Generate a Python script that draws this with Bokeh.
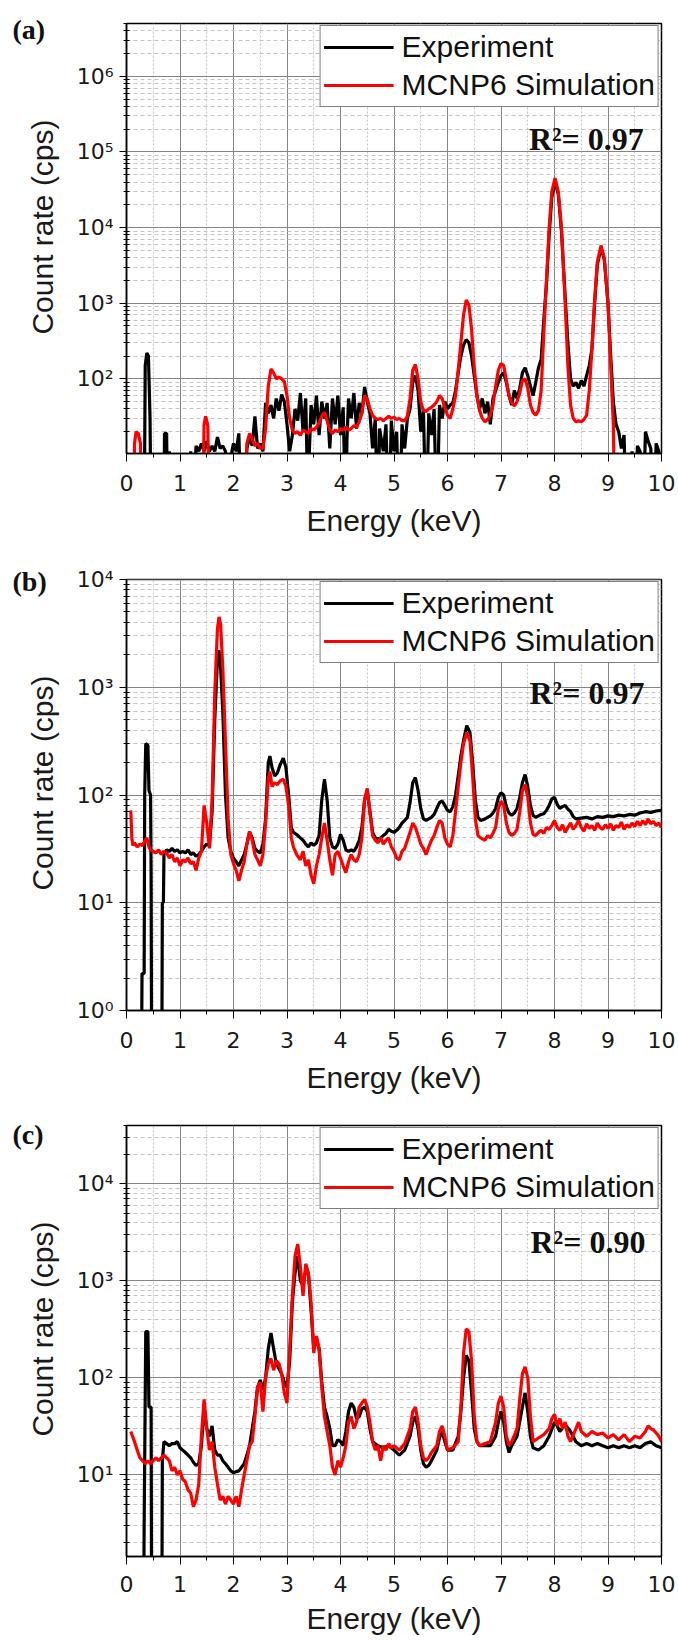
import math
from bokeh.plotting import figure
from bokeh.models import (Range1d, FixedTicker, CustomJSTickFormatter, Label,
                          Legend, LegendItem, ColumnDataSource)
from bokeh.core.properties import value
from bokeh.layouts import column, row
from bokeh.embed import file_html
from bokeh.resources import INLINE

# ---------------- data (energy keV, count rate cps) ----------------
A_EXP = [(0.10,1),(0.33,1),(0.35,150),(0.38,220),(0.41,200),(0.44,30),(0.46,1),
 (0.70,1),(0.71,19),(0.75,19),(0.77,1),(0.80,11),(0.82,1),
 (1.18,1),(1.20,11),(1.23,1),(1.30,13),(1.35,11),(1.40,14),(1.45,11),(1.50,15),(1.55,11),(1.60,13),(1.65,11),
 (1.70,17),(1.75,12),(1.80,13),(1.85,11),(1.90,1),(1.97,11),(2.00,14),(2.05,11),(2.10,19),(2.15,1),
 (2.25,12),(2.30,17),(2.35,13),(2.40,32),(2.45,12),(2.50,14),(2.55,11),(2.60,48),(2.65,35),(2.70,45),(2.75,30),
 (2.80,55),(2.85,38),(2.90,62),(2.95,50),(3.00,25),(3.05,11),
 (3.10,18),(3.15,40),(3.20,28),(3.25,65),(3.30,20),(3.35,55),(3.40,1),(3.42,12),(3.45,45),(3.50,25),(3.55,60),
 (3.60,18),(3.65,50),(3.70,30),(3.75,48),(3.80,12),(3.85,55),(3.90,25),(3.95,60),(4.00,18),(4.05,42),(4.10,1),
 (4.12,15),(4.15,55),(4.20,30),(4.25,65),(4.30,22),(4.35,48),(4.40,35),(4.45,78),(4.50,50),(4.55,35),(4.60,12),
 (4.65,30),(4.70,1),(4.73,22),(4.80,11),(4.85,25),(4.90,1),(4.95,28),(5.00,11),(5.05,20),(5.10,1),(5.15,25),
 (5.20,12),(5.25,30),(5.30,40),(5.35,90),(5.40,110),(5.45,70),(5.50,20),(5.55,40),(5.60,1),(5.65,35),(5.70,18),
 (5.75,40),(5.80,1),(5.85,45),(5.90,30),(5.95,50),(6.00,40),(6.05,45),(6.10,48),(6.15,70),(6.20,120),(6.25,200),
 (6.30,280),(6.35,330),(6.40,300),(6.45,200),(6.50,110),(6.55,60),(6.60,40),(6.65,55),(6.70,35),(6.75,50),
 (6.80,25),(6.85,55),(6.90,70),(6.95,90),(7.00,110),(7.05,120),(7.10,90),(7.15,60),(7.20,45),(7.25,70),(7.30,55),
 (7.35,75),(7.40,120),(7.45,140),(7.50,110),(7.55,80),(7.60,60),(7.65,90),(7.70,140),(7.75,180),(7.80,600),
 (7.85,1800),(7.90,8000),(7.95,25000),(8.01,40000),(8.07,28000),(8.13,9000),(8.20,1200),(8.25,300),(8.30,100),
 (8.35,80),(8.40,90),(8.45,75),(8.50,95),(8.55,80),(8.60,110),(8.65,150),(8.70,250),(8.75,1000),(8.80,3200),
 (8.87,5400),(8.93,3800),(9.00,1000),(9.05,200),(9.10,50),(9.15,25),(9.20,20),(9.25,12),(9.30,18),(9.35,1),
 (9.45,11),(9.50,1),(9.55,13),(9.60,11),(9.65,1),(9.70,20),(9.75,15),(9.80,12),(9.85,1),(9.90,14),(9.95,11),(10.0,1)]

A_SIM = [(0.10,1),(0.13,1),(0.15,14),(0.18,20),(0.22,19),(0.26,14),(0.28,1),(1.42,1),(1.45,25),(1.48,32),
 (1.52,24),(1.55,1),(2.20,1),(2.25,14),(2.30,19),(2.35,16),(2.40,13),(2.45,14),(2.50,12),(2.55,12),(2.60,22),
 (2.65,80),(2.70,135),(2.75,120),(2.80,100),(2.85,105),(2.90,100),(2.95,92),(3.00,60),(3.05,30),(3.10,21),
 (3.15,19),(3.20,20),(3.25,18),(3.30,21),(3.35,20),(3.40,19),(3.45,22),(3.50,21),(3.55,23),(3.60,26),(3.65,32),
 (3.70,36),(3.75,28),(3.80,21),(3.85,19),(3.90,21),(3.95,20),(4.00,22),(4.05,21),(4.10,23),(4.15,21),(4.20,22),
 (4.25,24),(4.30,23),(4.35,27),(4.40,35),(4.45,60),(4.50,55),(4.55,40),(4.60,33),(4.65,30),(4.70,29),(4.75,30),
 (4.80,28),(4.85,30),(4.90,32),(4.95,30),(5.00,31),(5.05,29),(5.10,30),(5.15,28),(5.20,28),(5.25,32),(5.30,55),
 (5.35,130),(5.40,155),(5.45,100),(5.50,50),(5.55,38),(5.60,37),(5.65,40),(5.70,42),(5.75,45),(5.80,50),
 (5.85,60),(5.90,55),(5.95,42),(6.00,33),(6.05,30),(6.10,40),(6.15,60),(6.20,130),(6.25,300),(6.30,700),
 (6.35,1100),(6.40,950),(6.45,450),(6.50,140),(6.55,60),(6.60,38),(6.65,30),(6.70,27),(6.75,29),(6.80,33),
 (6.85,45),(6.90,80),(6.95,130),(7.00,160),(7.05,150),(7.10,95),(7.15,60),(7.20,48),(7.25,44),(7.30,50),
 (7.35,65),(7.40,95),(7.45,100),(7.50,75),(7.55,45),(7.60,36),(7.65,33),(7.70,38),(7.75,70),(7.80,400),
 (7.85,2000),(7.90,10000),(7.95,30000),(8.01,45000),(8.07,30000),(8.13,10000),(8.20,1000),(8.25,150),(8.30,45),
 (8.35,30),(8.40,27),(8.45,28),(8.50,27),(8.55,29),(8.60,33),(8.65,70),(8.70,250),(8.75,1100),(8.80,3500),
 (8.87,5800),(8.93,4000),(9.00,1000),(9.05,150),(9.10,25),(9.13,1),(10.0,1)]

B_EXP = [(0.28,0.3),(0.29,2.2),(0.33,2.2),(0.34,100),(0.36,300),(0.40,290),(0.42,110),(0.45,100),(0.46,20),
 (0.47,0.3),(0.66,0.3),(0.67,10),(0.69,10),(0.70,28),(0.75,31),(0.80,30),(0.85,32),(0.90,30),(0.95,31),(1.00,29),
 (1.05,30),(1.10,29),(1.15,31),(1.20,28),(1.25,29),(1.30,27),(1.35,28),(1.40,30),(1.45,33),(1.50,35),(1.55,34),
 (1.60,70),(1.65,500),(1.70,1800),(1.73,2200),(1.76,1500),(1.80,600),(1.85,100),(1.90,40),(1.95,30),(2.00,26),
 (2.05,24),(2.10,22),(2.15,25),(2.20,28),(2.25,35),(2.30,45),(2.35,40),(2.40,32),(2.45,30),(2.50,29),(2.55,35),
 (2.60,60),(2.65,200),(2.68,230),(2.72,180),(2.77,150),(2.82,160),(2.87,190),(2.93,220),(2.98,180),(3.03,100),
 (3.08,50),(3.12,45),(3.18,43),(3.25,40),(3.30,38),(3.35,35),(3.40,33),(3.45,36),(3.50,34),(3.55,36),(3.60,42),
 (3.65,90),(3.70,140),(3.75,90),(3.80,40),(3.85,33),(3.90,32),(3.95,35),(4.00,43),(4.05,38),(4.10,31),(4.15,30),
 (4.20,31),(4.25,30),(4.30,33),(4.35,38),(4.40,50),(4.45,90),(4.50,110),(4.55,70),(4.60,45),(4.65,40),(4.70,39),
 (4.75,40),(4.80,42),(4.85,44),(4.90,48),(4.95,46),(5.00,45),(5.05,47),(5.10,50),(5.15,55),(5.20,58),(5.25,62),
 (5.30,85),(5.35,130),(5.40,145),(5.45,110),(5.50,75),(5.55,60),(5.60,58),(5.65,60),(5.70,62),(5.75,66),
 (5.80,75),(5.85,85),(5.90,88),(5.95,80),(6.00,72),(6.05,70),(6.10,78),(6.15,100),(6.20,150),(6.25,230),
 (6.30,320),(6.36,440),(6.42,380),(6.47,200),(6.52,90),(6.57,62),(6.62,58),(6.70,60),(6.75,62),(6.80,64),
 (6.85,68),(6.90,75),(6.95,95),(7.00,105),(7.05,100),(7.10,78),(7.15,68),(7.20,65),(7.25,68),(7.30,75),
 (7.35,95),(7.40,130),(7.45,155),(7.50,120),(7.55,80),(7.60,65),(7.65,62),(7.70,64),(7.75,66),(7.80,67),
 (7.85,72),(7.90,80),(7.95,92),(8.00,95),(8.05,82),(8.10,75),(8.15,78),(8.20,80),(8.25,74),(8.30,70),(8.35,63),
 (8.40,60),(8.50,61),(8.60,62),(8.70,60),(8.80,63),(8.90,62),(9.00,64),(9.10,63),(9.20,65),(9.30,64),(9.40,66),
 (9.50,65),(9.60,68),(9.70,70),(9.80,69),(9.90,71),(10.0,72)]

B_SIM = [(0.08,72),(0.10,40),(0.12,34),(0.15,36),(0.20,33),(0.25,35),(0.30,34),(0.35,38),(0.38,40),(0.42,33),
 (0.45,31),(0.50,30),(0.55,29),(0.60,31),(0.65,28),(0.70,30),(0.75,29),(0.80,26),(0.85,28),(0.90,24),(0.95,26),
 (1.00,22),(1.05,25),(1.10,24),(1.15,26),(1.20,23),(1.25,24),(1.30,20),(1.35,26),(1.40,30),(1.45,80),(1.50,55),
 (1.55,32),(1.60,90),(1.65,900),(1.70,3500),(1.73,4500),(1.76,3800),(1.80,1500),(1.85,300),(1.90,60),(1.95,28),
 (2.00,23),(2.05,20),(2.10,16),(2.15,20),(2.20,24),(2.25,35),(2.30,46),(2.35,38),(2.40,28),(2.45,25),(2.50,22),
 (2.55,28),(2.60,55),(2.65,140),(2.68,165),(2.72,120),(2.77,130),(2.82,125),(2.87,135),(2.93,140),(2.98,120),
 (3.03,80),(3.08,40),(3.12,33),(3.18,28),(3.25,25),(3.30,30),(3.35,22),(3.40,25),(3.45,18),(3.50,15),(3.55,22),
 (3.60,28),(3.65,40),(3.70,55),(3.75,38),(3.80,25),(3.85,18),(3.90,28),(3.95,30),(4.00,26),(4.05,22),(4.10,19),
 (4.15,24),(4.20,28),(4.25,25),(4.30,24),(4.35,28),(4.40,40),(4.45,90),(4.50,115),(4.55,70),(4.60,42),(4.65,38),
 (4.70,36),(4.75,40),(4.80,35),(4.85,38),(4.90,40),(4.95,33),(5.00,30),(5.05,26),(5.10,25),(5.15,30),(5.20,32),
 (5.25,38),(5.30,45),(5.35,55),(5.40,50),(5.45,42),(5.50,35),(5.55,32),(5.60,28),(5.65,33),(5.70,38),(5.75,42),
 (5.80,50),(5.85,58),(5.90,55),(5.95,40),(6.00,35),(6.05,33),(6.10,42),(6.15,70),(6.20,120),(6.25,200),
 (6.30,300),(6.36,380),(6.42,320),(6.47,150),(6.52,60),(6.57,42),(6.62,40),(6.70,38),(6.75,42),(6.80,40),
 (6.85,44),(6.90,50),(6.95,75),(7.00,88),(7.05,80),(7.10,55),(7.15,45),(7.20,42),(7.25,44),(7.30,48),(7.35,70),
 (7.40,110),(7.45,125),(7.50,95),(7.55,55),(7.60,43),(7.65,42),(7.70,45),(7.75,47),(7.80,44),(7.85,50),
 (7.90,48),(7.95,52),(8.00,58),(8.05,50),(8.10,47),(8.15,53),(8.20,45),(8.25,50),(8.30,55),(8.35,48),(8.40,52),
 (8.45,58),(8.50,50),(8.55,46),(8.60,54),(8.65,49),(8.70,52),(8.75,47),(8.80,55),(8.85,50),(8.90,48),(8.95,53),
 (9.00,49),(9.05,54),(9.10,47),(9.15,52),(9.20,50),(9.25,56),(9.30,48),(9.35,53),(9.40,50),(9.45,55),(9.50,51),
 (9.55,57),(9.60,52),(9.65,58),(9.70,53),(9.75,60),(9.80,54),(9.85,57),(9.90,52),(9.95,55),(10.0,50)]

C_EXP = [(0.30,0.3),(0.32,0.3),(0.33,3),(0.36,300),(0.40,300),(0.42,50),(0.46,50),(0.47,0.3),(0.66,0.3),
 (0.67,14),(0.70,22),(0.75,21),(0.80,20),(0.85,21),(0.90,21),(0.95,22),(1.00,19),(1.05,18),(1.10,17),(1.15,16),
 (1.20,15),(1.25,13.5),(1.30,12.5),(1.35,13),(1.40,20),(1.45,48),(1.50,30),(1.55,25),(1.60,32),(1.65,18),
 (1.70,16),(1.75,16),(1.80,14),(1.85,13),(1.90,12),(1.95,11),(2.00,10.5),(2.05,10.8),(2.10,11),(2.15,12),
 (2.20,13),(2.25,16),(2.30,20),(2.35,30),(2.40,45),(2.45,80),(2.50,95),(2.55,75),(2.60,100),(2.65,200),
 (2.70,290),(2.75,200),(2.80,140),(2.85,125),(2.90,110),(2.95,90),(3.00,80),(3.05,150),(3.10,600),(3.15,1200),
 (3.20,1800),(3.25,1000),(3.30,900),(3.35,1300),(3.40,1200),(3.45,500),(3.50,200),(3.55,250),(3.60,200),
 (3.65,90),(3.70,50),(3.75,40),(3.80,30),(3.85,20),(3.90,20),(3.95,23),(4.00,22),(4.05,20),(4.10,28),(4.15,45),
 (4.20,55),(4.25,50),(4.30,38),(4.35,40),(4.40,48),(4.45,50),(4.50,45),(4.55,30),(4.60,22),(4.70,20),(4.80,19),
 (4.90,20),(5.00,18),(5.10,16),(5.20,18),(5.30,25),(5.35,35),(5.40,40),(5.45,30),(5.50,18),(5.55,13),(5.60,12),
 (5.65,12.5),(5.70,14),(5.80,18),(5.85,24),(5.90,28),(5.95,22),(6.00,18),(6.10,18),(6.20,25),(6.25,45),
 (6.30,100),(6.35,170),(6.40,150),(6.45,70),(6.50,30),(6.55,22),(6.60,20),(6.70,20),(6.80,20),(6.90,25),
 (6.95,35),(7.00,45),(7.05,35),(7.10,22),(7.15,17),(7.20,20),(7.30,25),(7.40,50),(7.45,70),(7.50,45),(7.55,25),
 (7.60,19),(7.70,18),(7.80,20),(7.90,25),(8.00,35),(8.05,32),(8.10,28),(8.20,33),(8.30,28),(8.40,22),(8.50,20),
 (8.60,21),(8.70,20),(8.80,21),(8.90,20),(9.00,19),(9.10,20),(9.20,19),(9.30,20),(9.40,19),(9.50,20),(9.60,19),
 (9.70,21),(9.80,22),(9.90,20),(10.0,19)]

C_SIM = [(0.08,28),(0.15,22),(0.20,18),(0.25,15),(0.30,14),(0.35,13),(0.40,14),(0.45,13),(0.50,14),(0.55,15),
 (0.60,14),(0.65,15),(0.70,16),(0.75,15),(0.80,14),(0.85,11),(0.90,12),(0.95,10),(1.00,11),(1.05,9),(1.10,8.5),
 (1.15,7),(1.20,6.5),(1.25,4.7),(1.30,5.5),(1.35,8),(1.40,25),(1.45,60),(1.50,30),(1.55,18),(1.60,22),(1.65,12),
 (1.70,8),(1.75,5.5),(1.80,6),(1.85,5),(1.90,6),(1.95,5.5),(2.00,5),(2.05,6),(2.10,4.7),(2.15,7),(2.20,10),
 (2.25,14),(2.30,20),(2.35,22),(2.40,40),(2.45,80),(2.50,90),(2.55,45),(2.60,100),(2.65,140),(2.70,158),
 (2.75,120),(2.80,150),(2.85,140),(2.90,110),(2.95,70),(3.00,55),(3.05,200),(3.10,700),(3.15,1800),(3.20,2400),
 (3.25,1400),(3.30,700),(3.35,1500),(3.40,1200),(3.45,600),(3.50,180),(3.55,270),(3.60,200),(3.65,80),(3.70,40),
 (3.75,28),(3.80,20),(3.85,12),(3.90,10),(3.95,14),(4.00,12),(4.05,15),(4.10,20),(4.15,35),(4.20,40),(4.25,30),
 (4.30,35),(4.35,50),(4.40,55),(4.45,60),(4.50,50),(4.55,35),(4.60,22),(4.65,18),(4.70,20),(4.75,14),(4.80,20),
 (4.85,18),(4.90,21),(4.95,19),(5.00,20),(5.10,18),(5.20,21),(5.30,30),(5.35,45),(5.40,50),(5.45,35),(5.50,20),
 (5.55,15),(5.60,14),(5.65,15),(5.70,17),(5.80,20),(5.85,28),(5.90,32),(5.95,25),(6.00,18),(6.10,19),(6.20,22),
 (6.25,50),(6.30,180),(6.35,320),(6.40,300),(6.45,150),(6.50,40),(6.55,22),(6.60,20),(6.70,21),(6.80,22),
 (6.90,35),(6.95,55),(7.00,65),(7.05,50),(7.10,25),(7.15,20),(7.20,22),(7.30,30),(7.35,60),(7.40,110),
 (7.45,130),(7.50,100),(7.55,40),(7.60,22),(7.70,24),(7.80,26),(7.90,30),(7.95,38),(8.00,42),(8.05,32),
 (8.10,38),(8.15,30),(8.20,35),(8.25,25),(8.30,22),(8.40,30),(8.45,35),(8.50,28),(8.60,25),(8.70,28),(8.80,26),
 (8.90,27),(9.00,24),(9.10,26),(9.20,23),(9.30,26),(9.40,22),(9.50,25),(9.60,24),(9.70,28),(9.75,32),(9.80,30),
 (9.85,29),(9.90,27),(9.95,25),(10.0,22)]

X_TICKS = [0, 1, 2, 3, 4, 5, 6, 7, 8, 9, 10]
X_MINOR = [0.5, 1.5, 2.5, 3.5, 4.5, 5.5, 6.5, 7.5, 8.5, 9.5]
SERIES_NAMES = ["Experiment", "MCNP6 Simulation"]
PANEL_TAGS = ["(a)", "(b)", "(c)"]
R2_TEXT = ["R\u00b2= 0.97", "R\u00b2= 0.97", "R\u00b2= 0.90"]
Y_RANGES = [(10.3, 5e6), (0.9999, 10001), (1.44, 4e4)]
Y_TITLE = "Count rate (cps)"
X_TITLE = "Energy (keV)"

SANS = "Liberation Sans"
TICK_FONT = "DejaVu Sans"
SERIF = "Liberation Serif"
STRIP_W = 70
PAGE_H = 1641

sup_js = """
const s = {"0":"\u2070","1":"\u00b9","2":"\u00b2","3":"\u00b3","4":"\u2074","5":"\u2075","6":"\u2076","7":"\u2077","8":"\u2078","9":"\u2079","-":"\u207b"};
const e = Math.round(Math.log10(tick));
return "10" + String(e).split("").map(c => s[c]).join("");
"""

def log_ticks():
    majors, minors = [], []
    for d in range(-1, 8):
        base = 10.0 ** d
        majors.append(base)
        for k in range(2, 10):
            minors.append(k * base)
    return majors, minors

def make_panel(idx, exp, sim, height, top, bottom, r2_xy, lab_standoff, title_standoff):
    ylo, yhi = Y_RANGES[idx]
    p = figure(width=678 - STRIP_W, height=height, y_axis_type="log",
               x_range=Range1d(0, 10), y_range=Range1d(ylo, yhi),
               output_backend="svg", toolbar_location=None,
               min_border_left=126 - STRIP_W, min_border_right=17,
               min_border_top=top, min_border_bottom=bottom,
               background_fill_color="white", border_fill_color="white")
    majors, minors = log_ticks()
    p.yaxis.ticker = FixedTicker(ticks=majors, minor_ticks=minors)
    p.xaxis.ticker = FixedTicker(ticks=X_TICKS, minor_ticks=X_MINOR)
    p.yaxis.formatter = CustomJSTickFormatter(code=sup_js)

    for ax in (p.xaxis[0], p.yaxis[0]):
        ax.axis_line_color = "black"
        ax.axis_line_width = 1.5
        ax.major_tick_line_color = "black"
        ax.minor_tick_line_color = "black"
        ax.major_label_text_font = TICK_FONT
        ax.major_label_text_font_size = "22px"
        ax.major_label_text_color = "#1a1a1a"
        ax.axis_label_text_font = SANS
        ax.axis_label_text_font_size = "30px"
        ax.axis_label_text_font_style = "normal"
        ax.axis_label_text_color = "#1a1a1a"
    p.xaxis.major_tick_in = 0
    p.xaxis.major_tick_out = 8
    p.xaxis.minor_tick_in = 0
    p.xaxis.minor_tick_out = 4
    p.xaxis.major_label_standoff = lab_standoff
    p.xaxis.axis_label = X_TITLE
    p.xaxis.axis_label_standoff = title_standoff
    p.yaxis.major_tick_in = 0
    p.yaxis.major_tick_out = 7
    p.yaxis.minor_tick_in = 3
    p.yaxis.minor_tick_out = 3
    p.yaxis.major_label_standoff = 6

    p.xgrid.grid_line_color = "#858585"
    p.xgrid.grid_line_width = 1
    p.xgrid.minor_grid_line_color = "#c4c4c4"
    p.xgrid.minor_grid_line_dash = "2 2"
    p.ygrid.grid_line_color = "#858585"
    p.ygrid.grid_line_width = 1
    p.ygrid.minor_grid_line_color = "#c4c4c4"
    p.ygrid.minor_grid_line_dash = "4 3"

    p.outline_line_color = "black"
    p.outline_line_width = 1.5
    p.outline_line_alpha = 1

    src_e = ColumnDataSource(dict(x=[e for e, _ in exp], y=[c for _, c in exp]))
    src_s = ColumnDataSource(dict(x=[e for e, _ in sim], y=[c for _, c in sim]))
    r1 = p.line("x", "y", source=src_e, line_color="black", line_width=3.2)
    r2 = p.line("x", "y", source=src_s, line_color="#ff0000", line_width=3.2)

    legend = Legend(items=[LegendItem(label=SERIES_NAMES[0], renderers=[r1]),
                           LegendItem(label=SERIES_NAMES[1], renderers=[r2])],
                    location="top_right", margin=2, padding=3, spacing=2,
                    glyph_width=70, glyph_height=36, label_height=36,
                    label_standoff=8,
                    label_text_font=SANS, label_text_font_size="30px",
                    label_text_color="#111111",
                    border_line_color="black", border_line_width=1.5,
                    background_fill_color="white", background_fill_alpha=1)
    p.add_layout(legend)

    p.add_layout(Label(x=r2_xy[0], y=r2_xy[1], text=R2_TEXT[idx], text_font=SERIF,
                       text_font_style="bold", text_font_size="32px",
                       text_baseline="middle", text_align="right", text_color="#111111"))
    return p

pa = make_panel(0, A_EXP, A_SIM, 552, 23, 99, (9.67, 1.48e5), 13, 10)
pb = make_panel(1, B_EXP, B_SIM, 545, 27, 87, (9.68, 878), 13, 10)
pc = make_panel(2, C_EXP, C_SIM, 544, 28, 85, (9.70, 2530), 11, 7)

# left strip holding the panel tags and the rotated y-axis titles (page pixel coordinates)
TAG_POS = [(12, 28.5), (12, 581), (12, 1134)]
YTITLE_POS = [(41.5, 226.5), (41.5, 782.5), (41.5, 1328.5)]

strip = figure(width=STRIP_W, height=PAGE_H, x_range=Range1d(0, STRIP_W),
               y_range=Range1d(0, PAGE_H), x_axis_type=None, y_axis_type=None,
               min_border=0, outline_line_color=None, toolbar_location=None,
               output_backend="svg", background_fill_color="white",
               border_fill_color="white")
strip.text(x=[t[0] for t in TAG_POS], y=[PAGE_H - t[1] for t in TAG_POS], text=PANEL_TAGS,
           text_font=value(SERIF), text_font_style="bold", text_font_size="28px",
           text_align="left", text_baseline="middle", text_color="#111111")
strip.text(x=[t[0] for t in YTITLE_POS], y=[PAGE_H - t[1] for t in YTITLE_POS],
           text=[Y_TITLE] * 3, text_font=value(SANS), text_font_size="30px",
           angle=math.pi / 2, text_align="center", text_baseline="middle",
           text_color="#1a1a1a")

layout = row(strip, column(pa, pb, pc, spacing=0), spacing=0)
open("out.html", "w").write(file_html(layout, INLINE))
